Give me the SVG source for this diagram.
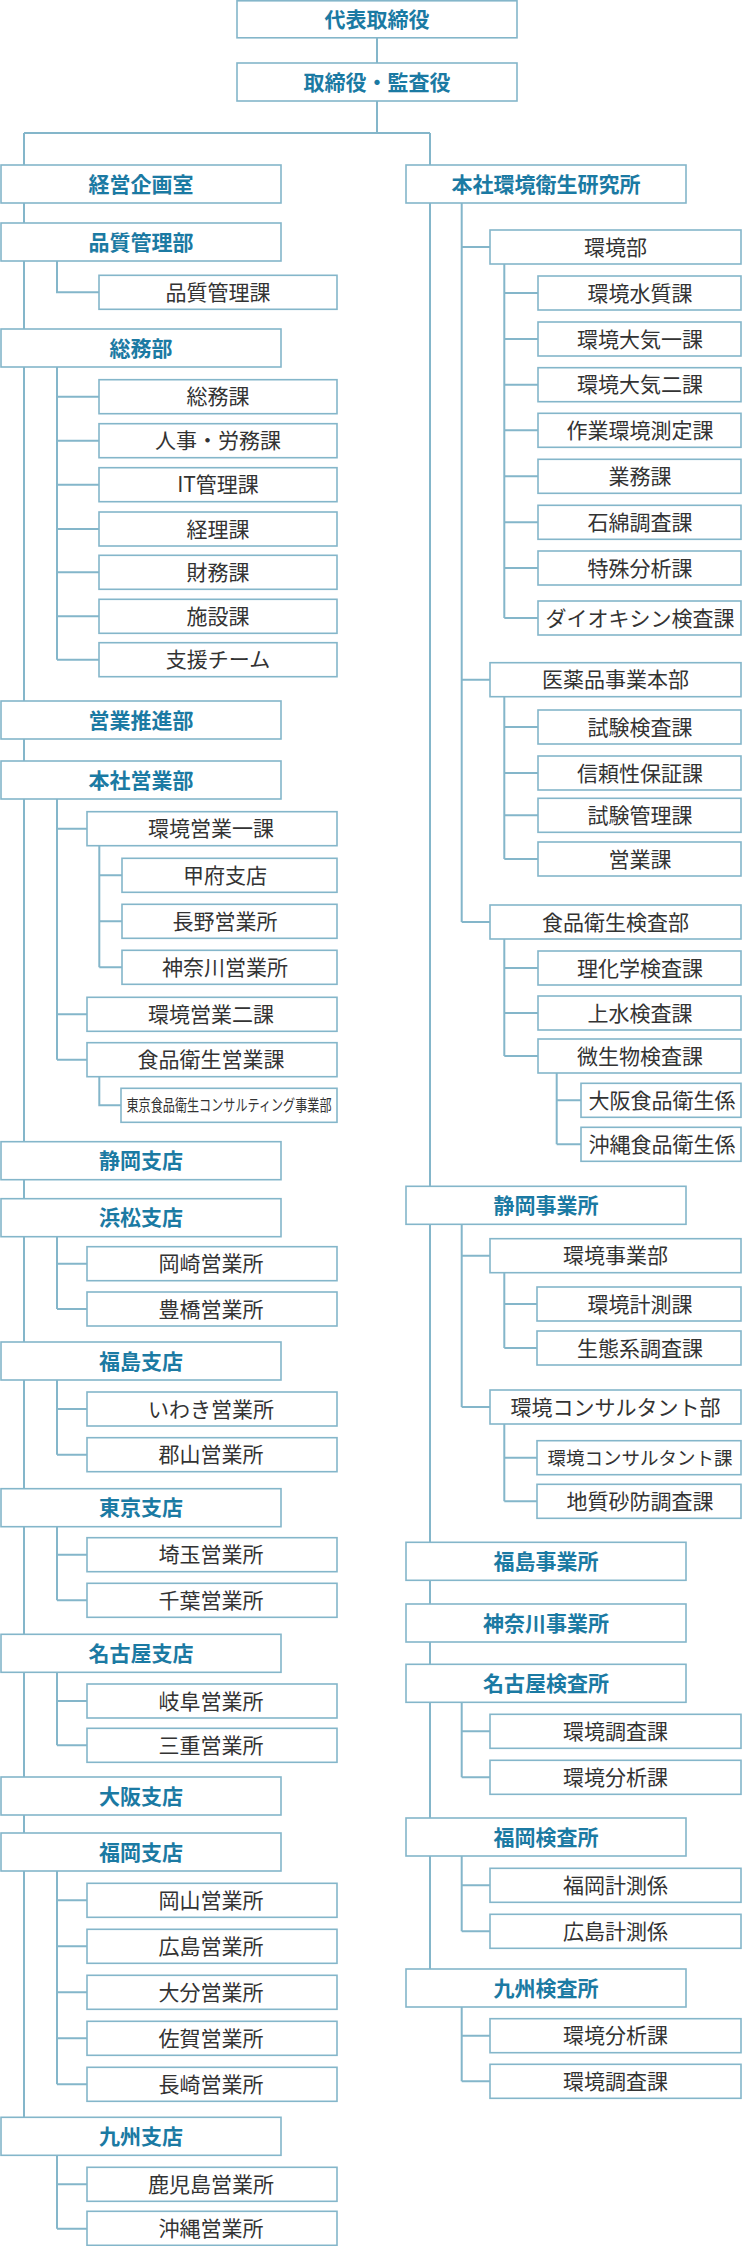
<svg xmlns="http://www.w3.org/2000/svg" width="743" height="2246" viewBox="0 0 743 2246">
<style>
rect{fill:#fff;stroke:#84b6ca;stroke-width:1.6}
text{font-family:"Noto Sans CJK JP","Noto Sans CJK SC",sans-serif;font-size:21px;text-anchor:middle}
.h text{fill:#1b7aa3;font-weight:bold}
.c text{fill:#333}
#links path{fill:none;stroke:#84b6ca;stroke-width:2}
</style>
<g id="links">
<path d="M377,38V63M377,101V133M24,133H430M24,133V2117M430,133V1969"/>
<path d="M57,261V292.3H99"/>
<path d="M57,367V659.7M57,396.7H99M57,440.7H99M57,484.7H99M57,529H99M57,572.3H99M57,616.3H99M57,659.7H99"/>
<path d="M57,799V1059.7M57,828.7H87M57,1014.3H87M57,1059.7H87"/>
<path d="M99.3,845V967.3M99.3,875.3H122M99.3,921.3H122M99.3,967.3H122"/>
<path d="M99.3,1076V1105.3H121"/>
<path d="M57,1236.7V1309M57,1263.7H87M57,1309H87"/>
<path d="M57,1379.7V1454.7M57,1409H87M57,1454.7H87"/>
<path d="M57,1526.7V1600.3M57,1554.7H87M57,1600.3H87"/>
<path d="M57,1672.3V1745.3M57,1701H87M57,1745.3H87"/>
<path d="M57,1871V2084.3M57,1900.3H87M57,1946.3H87M57,1992.3H87M57,2038.3H87M57,2084.3H87"/>
<path d="M57,2155.3V2228.7M57,2184.3H87M57,2228.7H87"/>
<path d="M461.7,203V922M461.7,247H490M461.7,679.7H490M461.7,922H490"/>
<path d="M504.3,264V618M504.3,293H538M504.3,339H538M504.3,384.7H538M504.3,430.3H538M504.3,476.3H538M504.3,522.3H538M504.3,568H538M504.3,618H538"/>
<path d="M504.3,696.7V859M504.3,727H538M504.3,773H538M504.3,815.3H538M504.3,859H538"/>
<path d="M504.3,939V1056M504.3,968H538M504.3,1013H538M504.3,1056H538"/>
<path d="M556.7,1073V1144.3M556.7,1100.3H581M556.7,1144.3H581"/>
<path d="M461.7,1224.3V1407M461.7,1255.7H490M461.7,1407H490"/>
<path d="M504.3,1272.7V1348M504.3,1304H537M504.3,1348H537"/>
<path d="M504.3,1424V1501.3M504.3,1457.7H537M504.3,1501.3H537"/>
<path d="M461.7,1702.3V1777.3M461.7,1731.3H490M461.7,1777.3H490"/>
<path d="M461.7,1856V1931.3M461.7,1885.3H490M461.7,1931.3H490"/>
<path d="M461.7,2007V2081.3M461.7,2035.7H490M461.7,2081.3H490"/>
</g>
<g class="h">
<g id="n-ceo"><rect x="237" y="0.8" width="280" height="37"/><text x="377" y="26.5">代表取締役</text></g>
<g id="n-board"><rect x="237" y="63" width="280" height="38"/><text x="377" y="89.5">取締役・監査役</text></g>
<g id="n-keiei"><rect x="1" y="165" width="280" height="38"/><text x="141" y="191.5">経営企画室</text></g>
<g id="n-hinshitsu"><rect x="1" y="223" width="280" height="38"/><text x="141" y="249.5">品質管理部</text></g>
<g id="n-somu"><rect x="1" y="329" width="280" height="38"/><text x="141" y="355.5">総務部</text></g>
<g id="n-eigyosuishin"><rect x="1" y="701" width="280" height="38"/><text x="141" y="727.5">営業推進部</text></g>
<g id="n-honsha-eigyo"><rect x="1" y="761" width="280" height="38"/><text x="141" y="787.5">本社営業部</text></g>
<g id="n-shizuoka-shiten"><rect x="1" y="1141.7" width="280" height="38"/><text x="141" y="1168.2">静岡支店</text></g>
<g id="n-hamamatsu"><rect x="1" y="1198.7" width="280" height="38"/><text x="141" y="1225.2">浜松支店</text></g>
<g id="n-fukushima-shiten"><rect x="1" y="1342" width="280" height="38"/><text x="141" y="1368.5">福島支店</text></g>
<g id="n-tokyo"><rect x="1" y="1488.7" width="280" height="38"/><text x="141" y="1515.2">東京支店</text></g>
<g id="n-nagoya-shiten"><rect x="1" y="1634.3" width="280" height="38"/><text x="141" y="1660.8">名古屋支店</text></g>
<g id="n-osaka"><rect x="1" y="1777" width="280" height="38"/><text x="141" y="1803.5">大阪支店</text></g>
<g id="n-fukuoka-shiten"><rect x="1" y="1833" width="280" height="38"/><text x="141" y="1859.5">福岡支店</text></g>
<g id="n-kyushu-shiten"><rect x="1" y="2117.3" width="280" height="38"/><text x="141" y="2143.8">九州支店</text></g>
<g id="n-kenkyusho"><rect x="406" y="165" width="280" height="38"/><text x="546" y="191.5">本社環境衛生研究所</text></g>
<g id="n-shizuoka-jigyosho"><rect x="406" y="1186.3" width="280" height="38"/><text x="546" y="1212.8">静岡事業所</text></g>
<g id="n-fukushima-jigyosho"><rect x="406" y="1542.3" width="280" height="38"/><text x="546" y="1568.8">福島事業所</text></g>
<g id="n-kanagawa-jigyosho"><rect x="406" y="1604" width="280" height="38"/><text x="546" y="1630.5">神奈川事業所</text></g>
<g id="n-nagoya-kensa"><rect x="406" y="1664.3" width="280" height="38"/><text x="546" y="1690.8">名古屋検査所</text></g>
<g id="n-fukuoka-kensa"><rect x="406" y="1818" width="280" height="38"/><text x="546" y="1844.5">福岡検査所</text></g>
<g id="n-kyushu-kensa"><rect x="406" y="1969" width="280" height="38"/><text x="546" y="1995.5">九州検査所</text></g>
</g>
<g class="c">
<g id="n-hinshitsu-ka"><rect x="99" y="275.3" width="238" height="34"/><text x="218" y="299.8">品質管理課</text></g>
<g id="n-somu-ka"><rect x="99" y="379.7" width="238" height="34"/><text x="218" y="404.2">総務課</text></g>
<g id="n-jinji"><rect x="99" y="423.7" width="238" height="34"/><text x="218" y="448.2">人事・労務課</text></g>
<g id="n-it"><rect x="99" y="467.7" width="238" height="34"/><text x="218" y="492.2">IT管理課</text></g>
<g id="n-keiri"><rect x="99" y="512" width="238" height="34"/><text x="218" y="536.5">経理課</text></g>
<g id="n-zaimu"><rect x="99" y="555.3" width="238" height="34"/><text x="218" y="579.8">財務課</text></g>
<g id="n-shisetsu"><rect x="99" y="599.3" width="238" height="34"/><text x="218" y="623.8">施設課</text></g>
<g id="n-shien"><rect x="99" y="642.7" width="238" height="34"/><text x="218" y="667.2">支援チーム</text></g>
<g id="n-kankyo-eigyo1"><rect x="87" y="811.7" width="250" height="34"/><text x="211" y="836.2">環境営業一課</text></g>
<g id="n-kofu"><rect x="122" y="858.3" width="215" height="34"/><text x="225" y="882.8">甲府支店</text></g>
<g id="n-nagano"><rect x="122" y="904.3" width="215" height="34"/><text x="225" y="928.8">長野営業所</text></g>
<g id="n-kanagawa-eigyo"><rect x="122" y="950.3" width="215" height="34"/><text x="225" y="974.8">神奈川営業所</text></g>
<g id="n-kankyo-eigyo2"><rect x="87" y="997.3" width="250" height="34"/><text x="211" y="1021.8">環境営業二課</text></g>
<g id="n-shokuhin-eigyo"><rect x="87" y="1042.7" width="250" height="34"/><text x="211" y="1067.2">食品衛生営業課</text></g>
<g id="n-tokyo-consul"><rect x="121" y="1088.3" width="216" height="34"/><text x="229" y="1111.3" style="font-size:16px" textLength="205" lengthAdjust="spacingAndGlyphs">東京食品衛生コンサルティング事業部</text></g>
<g id="n-okazaki"><rect x="87" y="1246.7" width="250" height="34"/><text x="211" y="1271.2">岡崎営業所</text></g>
<g id="n-toyohashi"><rect x="87" y="1292" width="250" height="34"/><text x="211" y="1316.5">豊橋営業所</text></g>
<g id="n-iwaki"><rect x="87" y="1392" width="250" height="34"/><text x="211" y="1416.5">いわき営業所</text></g>
<g id="n-koriyama"><rect x="87" y="1437.7" width="250" height="34"/><text x="211" y="1462.2">郡山営業所</text></g>
<g id="n-saitama"><rect x="87" y="1537.7" width="250" height="34"/><text x="211" y="1562.2">埼玉営業所</text></g>
<g id="n-chiba"><rect x="87" y="1583.3" width="250" height="34"/><text x="211" y="1607.8">千葉営業所</text></g>
<g id="n-gifu"><rect x="87" y="1684" width="250" height="34"/><text x="211" y="1708.5">岐阜営業所</text></g>
<g id="n-mie"><rect x="87" y="1728.3" width="250" height="34"/><text x="211" y="1752.8">三重営業所</text></g>
<g id="n-okayama"><rect x="87" y="1883.3" width="250" height="34"/><text x="211" y="1907.8">岡山営業所</text></g>
<g id="n-hiroshima-eigyo"><rect x="87" y="1929.3" width="250" height="34"/><text x="211" y="1953.8">広島営業所</text></g>
<g id="n-oita"><rect x="87" y="1975.3" width="250" height="34"/><text x="211" y="1999.8">大分営業所</text></g>
<g id="n-saga"><rect x="87" y="2021.3" width="250" height="34"/><text x="211" y="2045.8">佐賀営業所</text></g>
<g id="n-nagasaki"><rect x="87" y="2067.3" width="250" height="34"/><text x="211" y="2091.8">長崎営業所</text></g>
<g id="n-kagoshima"><rect x="87" y="2167.3" width="250" height="34"/><text x="211" y="2191.8">鹿児島営業所</text></g>
<g id="n-okinawa-eigyo"><rect x="87" y="2211.3" width="250" height="34"/><text x="211" y="2235.8">沖縄営業所</text></g>
<g id="n-kankyobu"><rect x="490" y="230" width="251" height="34"/><text x="615.5" y="254.5">環境部</text></g>
<g id="n-suishitsu"><rect x="538" y="276" width="203" height="34"/><text x="640" y="300.5">環境水質課</text></g>
<g id="n-taiki1"><rect x="538" y="322" width="203" height="34"/><text x="640" y="346.5">環境大気一課</text></g>
<g id="n-taiki2"><rect x="538" y="367.7" width="203" height="34"/><text x="640" y="392.2">環境大気二課</text></g>
<g id="n-sagyo"><rect x="538" y="413.3" width="203" height="34"/><text x="640" y="437.8">作業環境測定課</text></g>
<g id="n-gyomu"><rect x="538" y="459.3" width="203" height="34"/><text x="640" y="483.8">業務課</text></g>
<g id="n-sekimen"><rect x="538" y="505.3" width="203" height="34"/><text x="640" y="529.8">石綿調査課</text></g>
<g id="n-tokushu"><rect x="538" y="551" width="203" height="34"/><text x="640" y="575.5">特殊分析課</text></g>
<g id="n-dioxin"><rect x="538" y="601" width="203" height="34"/><text x="640" y="625.5">ダイオキシン検査課</text></g>
<g id="n-iyakuhin"><rect x="490" y="662.7" width="251" height="34"/><text x="615.5" y="687.2">医薬品事業本部</text></g>
<g id="n-shiken-kensa"><rect x="538" y="710" width="203" height="34"/><text x="640" y="734.5">試験検査課</text></g>
<g id="n-shinrai"><rect x="538" y="756" width="203" height="34"/><text x="640" y="780.5">信頼性保証課</text></g>
<g id="n-shiken-kanri"><rect x="538" y="798.3" width="203" height="34"/><text x="640" y="822.8">試験管理課</text></g>
<g id="n-eigyo-ka"><rect x="538" y="842" width="203" height="34"/><text x="640" y="866.5">営業課</text></g>
<g id="n-shokuhin-kensa"><rect x="490" y="905" width="251" height="34"/><text x="615.5" y="929.5">食品衛生検査部</text></g>
<g id="n-rikagaku"><rect x="538" y="951" width="203" height="34"/><text x="640" y="975.5">理化学検査課</text></g>
<g id="n-josui"><rect x="538" y="996" width="203" height="34"/><text x="640" y="1020.5">上水検査課</text></g>
<g id="n-biseibutsu"><rect x="538" y="1039" width="203" height="34"/><text x="640" y="1063.5">微生物検査課</text></g>
<g id="n-osaka-shokuhin"><rect x="581" y="1083.3" width="160" height="34"/><text x="662" y="1107.8">大阪食品衛生係</text></g>
<g id="n-okinawa-shokuhin"><rect x="581" y="1127.3" width="160" height="34"/><text x="662" y="1151.8">沖縄食品衛生係</text></g>
<g id="n-kankyo-jigyo"><rect x="490" y="1238.7" width="251" height="34"/><text x="615.5" y="1263.2">環境事業部</text></g>
<g id="n-keisoku"><rect x="537" y="1287" width="204" height="34"/><text x="640" y="1311.5">環境計測課</text></g>
<g id="n-seitaikei"><rect x="537" y="1331" width="204" height="34"/><text x="640" y="1355.5">生態系調査課</text></g>
<g id="n-consul-bu"><rect x="490" y="1390" width="251" height="34"/><text x="615.5" y="1414.5">環境コンサルタント部</text></g>
<g id="n-consul-ka"><rect x="537" y="1440.7" width="204" height="34"/><text x="640" y="1464.5" style="font-size:18.5px">環境コンサルタント課</text></g>
<g id="n-chishitsu"><rect x="537" y="1484.3" width="204" height="34"/><text x="640" y="1508.8">地質砂防調査課</text></g>
<g id="n-nagoya-chosa"><rect x="490" y="1714.3" width="251" height="34"/><text x="615.5" y="1738.8">環境調査課</text></g>
<g id="n-nagoya-bunseki"><rect x="490" y="1760.3" width="251" height="34"/><text x="615.5" y="1784.8">環境分析課</text></g>
<g id="n-fukuoka-keisoku"><rect x="490" y="1868.3" width="251" height="34"/><text x="615.5" y="1892.8">福岡計測係</text></g>
<g id="n-hiroshima-keisoku"><rect x="490" y="1914.3" width="251" height="34"/><text x="615.5" y="1938.8">広島計測係</text></g>
<g id="n-kyushu-bunseki"><rect x="490" y="2018.7" width="251" height="34"/><text x="615.5" y="2043.2">環境分析課</text></g>
<g id="n-kyushu-chosa"><rect x="490" y="2064.3" width="251" height="34"/><text x="615.5" y="2088.8">環境調査課</text></g>
</g>
</svg>
